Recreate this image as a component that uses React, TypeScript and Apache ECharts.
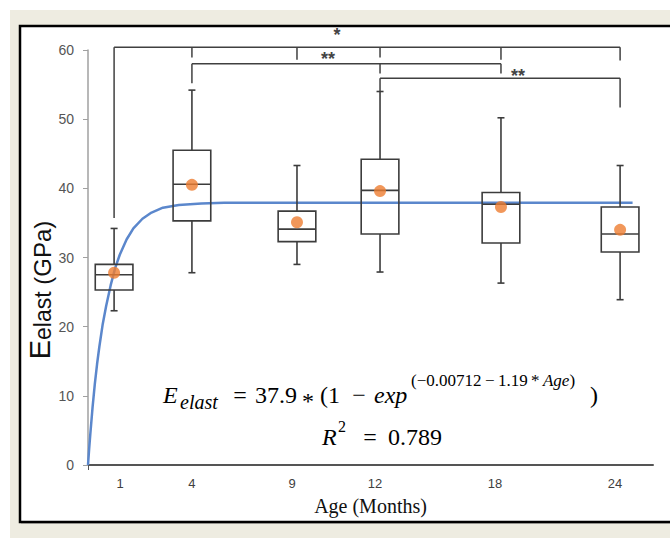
import React, { useEffect, useRef } from 'react';
import * as echarts from 'echarts';

// Age groups (tick labels) and where each group is drawn on the month axis
const ageLabels = ['1', '4', '9', '12', '18', '24'];
const boxPos = [1.15, 4.58, 9.21, 12.87, 18.2, 23.45];
const labelPos = [1.41, 4.58, 8.99, 12.65, 17.94, 23.23];

// Box plot statistics (GPa)
const whiskerLow = [22.3, 27.8, 29.0, 27.9, 26.3, 23.9];
const q1 = [25.3, 35.3, 32.3, 33.4, 32.1, 30.8];
const median = [27.5, 40.6, 34.1, 39.7, 37.7, 33.4];
const q3 = [29.0, 45.5, 36.7, 44.2, 39.4, 37.3];
const whiskerHigh = [34.2, 54.2, 43.3, 54.0, 50.2, 43.3];
const means = [27.8, 40.5, 35.1, 39.6, 37.3, 34.0];

// Fitted curve, points
const fitAge = [0, 0.05, 0.1, 0.2, 0.3, 0.4, 0.5, 0.65, 0.8, 1, 1.2, 1.4, 1.7, 2, 2.4, 2.8, 3.3, 4, 5, 6, 8, 12, 18, 24];
const fitValue = [0, 2.3, 4.4, 8.3, 11.7, 14.6, 17.1, 20.4, 23.0, 26.0, 28.5, 30.4, 32.6, 34.2, 35.6, 36.5, 37.2, 37.6, 37.8, 37.9, 37.9, 37.9, 37.9, 37.9];

// Significance brackets
const sigLabels = ['*', '**', '**'];
const sigLevel = [60.4, 58.0, 55.9];
const sigLabelX = [10.97, 10.58, 18.95];
const sigLabelY = [62.1, 58.7, 56.2];
const sigFrom = [0, 1, 3];
const sigTo = [5, 4, 5];
const sigLegGroups = [[0, 1, 2, 3, 4, 5], [1, 3, 4], [3, 5]];
const sigLegEnds = [[35.7, 58.9, 58.6, 58.9, 58.6, 58.5], [55.2, 56.6, 56.6], [54.0, 51.7]];

const SERIF = 'Liberation Serif';
const SANS = 'Liberation Sans';

function eqText(text: string, x: number, y: number, size: number, italic: boolean, align = 'left') {
  return {
    type: 'text',
    z: 20,
    x,
    y,
    style: {
      text,
      fill: '#000',
      fontSize: size,
      fontFamily: SERIF,
      fontStyle: italic ? 'italic' : 'normal',
      align,
      verticalAlign: 'middle',
    },
  };
}

export default function App() {
  const ref = useRef<HTMLDivElement>(null);

  useEffect(() => {
    if (!ref.current) return;
    const chart = echarts.init(ref.current, undefined, { renderer: 'svg' });

    const boxData = boxPos.map((p, i) => [p, whiskerLow[i], q1[i], median[i], q3[i], whiskerHigh[i]]);
    const sigData = sigLevel.map((lv, i) => [sigLabelX[i], lv]);
    const boxColor = '#3c3c3c';

    const option: any = {
      animation: false,
      backgroundColor: '#ffffff',
      textStyle: { fontFamily: SANS },
      grid: { left: 88, right: 17, top: 50, bottom: 73, containLabel: false },
      xAxis: {
        type: 'value',
        min: 0,
        max: 24.9,
        name: 'Age (Months)',
        nameLocation: 'middle',
        nameGap: 31,
        nameTextStyle: { fontFamily: SERIF, fontSize: 20, color: '#111', verticalAlign: 'top' },
        axisLine: { show: true, lineStyle: { color: '#555', width: 2 } },
        axisTick: { show: true, customValues: [0], length: 5, lineStyle: { color: '#555' } },
        splitLine: { show: false },
        axisLabel: {
          customValues: labelPos,
          margin: 12,
          fontSize: 13,
          color: '#404040',
          fontFamily: SANS,
          formatter: (v: number) => {
            const idx = labelPos.findIndex((p) => Math.abs(p - v) < 1e-6);
            return idx >= 0 ? ageLabels[idx] : '';
          },
        },
      },
      yAxis: {
        type: 'value',
        min: 0,
        max: 60,
        interval: 10,
        axisLine: { show: true, lineStyle: { color: '#a0a0a0', width: 1.5 } },
        axisTick: { show: true, inside: false, length: 5, lineStyle: { color: '#a0a0a0' } },
        splitLine: { show: false },
        axisLabel: { margin: 14, fontSize: 14, color: '#555', fontFamily: SANS },
      },
      graphic: [
        { type: 'rect', z: -20, silent: true, shape: { x: 10, y: 10, width: 660, height: 528 }, style: { fill: '#EEECE1' } },
        { type: 'rect', z: -19, silent: true, shape: { x: 21, y: 27, width: 660, height: 496 }, style: { fill: 'none', stroke: '#9a9a9a', lineWidth: 1 } },
        { type: 'rect', z: -18, silent: true, shape: { x: 20, y: 26, width: 660, height: 496 }, style: { fill: '#ffffff', stroke: '#000', lineWidth: 2.5 } },
        // y-axis title
        {
          type: 'text',
          z: 20,
          x: 40,
          y: 290,
          rotation: Math.PI / 2,
          style: {
            text: '{E|E}{s|elast}{n| (GPa)}',
            align: 'center',
            verticalAlign: 'middle',
            rich: {
              E: { fontSize: 29, fontFamily: SANS, fill: '#111', color: '#111', verticalAlign: 'bottom' },
              s: { fontSize: 23, fontFamily: SANS, fill: '#111', color: '#111', verticalAlign: 'bottom' },
              n: { fontSize: 24, fontFamily: SANS, fill: '#111', color: '#111', verticalAlign: 'bottom' },
            },
          },
        },
        // fit equation
        eqText('E', 163, 395, 24, true),
        eqText('elast', 180, 402, 20, true),
        eqText('=', 240, 395, 24, false, 'center'),
        eqText('37.9', 255, 395, 24, false),
        eqText('*', 308, 401, 24, false, 'center'),
        eqText('(1', 320, 395, 24, false),
        eqText('\u2212', 359, 395, 24, false, 'center'),
        eqText('exp', 374, 395, 24, true),
        {
          type: 'text',
          z: 20,
          x: 411,
          y: 380,
          style: {
            text: '{a|(\u22120.00712\u2009\u2212\u20091.19\u2009*\u2009}{b|Age}{a|)}',
            align: 'left',
            verticalAlign: 'middle',
            rich: {
              a: { fontSize: 17, fontFamily: SERIF, fill: '#000', color: '#000' },
              b: { fontSize: 17, fontFamily: SERIF, fontStyle: 'italic', fill: '#000', color: '#000' },
            },
          },
        },
        eqText(')', 590, 395, 24, false),
        eqText('R', 322, 437, 24, true),
        eqText('2', 338, 426, 16, false),
        eqText('=', 370, 437, 24, false, 'center'),
        eqText('0.789', 388, 437, 24, false),
      ],
      series: [
        {
          type: 'line',
          name: 'fit',
          data: fitAge.map((a, i) => [a, fitValue[i]]),
          showSymbol: false,
          smooth: false,
          z: 1,
          lineStyle: { color: '#5B87CC', width: 2.5 },
        },
        {
          type: 'custom',
          name: 'boxes',
          z: 3,
          data: boxData,
          encode: { x: 0, y: [1, 2, 3, 4, 5] },
          renderItem: (params: any, api: any) => {
            const x = api.coord([api.value(0), 0])[0];
            const yLo = api.coord([0, api.value(1)])[1];
            const yQ1 = api.coord([0, api.value(2)])[1];
            const yMed = api.coord([0, api.value(3)])[1];
            const yQ3 = api.coord([0, api.value(4)])[1];
            const yHi = api.coord([0, api.value(5)])[1];
            const hw = api.size([1, 0])[0] * 0.83;
            const cap = 3.5;
            const st = { stroke: boxColor, lineWidth: 1.6, fill: 'none' };
            return {
              type: 'group',
              children: [
                { type: 'line', shape: { x1: x, y1: yHi, x2: x, y2: yQ3 }, style: st },
                { type: 'line', shape: { x1: x, y1: yQ1, x2: x, y2: yLo }, style: st },
                { type: 'line', shape: { x1: x - cap, y1: yHi, x2: x + cap, y2: yHi }, style: st },
                { type: 'line', shape: { x1: x - cap, y1: yLo, x2: x + cap, y2: yLo }, style: st },
                { type: 'rect', shape: { x: x - hw, y: yQ3, width: 2 * hw, height: yQ1 - yQ3 }, style: st },
                { type: 'line', shape: { x1: x - hw, y1: yMed, x2: x + hw, y2: yMed }, style: st },
              ],
            };
          },
        },
        {
          type: 'scatter',
          name: 'mean',
          z: 5,
          data: boxPos.map((p, i) => [p, means[i]]),
          symbol: 'circle',
          symbolSize: 12,
          itemStyle: { color: '#ED7D31' },
        },
        {
          type: 'custom',
          name: 'significance',
          z: 4,
          clip: false,
          data: sigData,
          encode: { x: 0, y: 1 },
          renderItem: (params: any, api: any) => {
            const i = params.dataIndex;
            const y = api.coord([0, sigLevel[i]])[1];
            const x1 = api.coord([boxPos[sigFrom[i]], 0])[0];
            const x2 = api.coord([boxPos[sigTo[i]], 0])[0];
            const st = { stroke: '#404040', lineWidth: 1.5 };
            const children: any[] = [
              { type: 'line', shape: { x1, y1: y, x2, y2: y }, style: st },
            ];
            sigLegGroups[i].forEach((g, k) => {
              const lx = api.coord([boxPos[g], 0])[0];
              const ly = api.coord([0, sigLegEnds[i][k]])[1];
              children.push({ type: 'line', shape: { x1: lx, y1: y, x2: lx, y2: ly }, style: st });
            });
            const t = api.coord([sigLabelX[i], sigLabelY[i]]);
            children.push({
              type: 'text',
              x: t[0],
              y: t[1],
              style: {
                text: sigLabels[i],
                fill: '#444',
                fontSize: 18,
                fontWeight: 'bold',
                fontFamily: SANS,
                align: 'center',
                verticalAlign: 'middle',
              },
            });
            return { type: 'group', children };
          },
        },
      ],
    };

    chart.setOption(option);
    return () => chart.dispose();
  }, []);

  return <div ref={ref} style={{ position: 'absolute', left: 0, top: 0, width: 670, height: 538 }} />;
}
